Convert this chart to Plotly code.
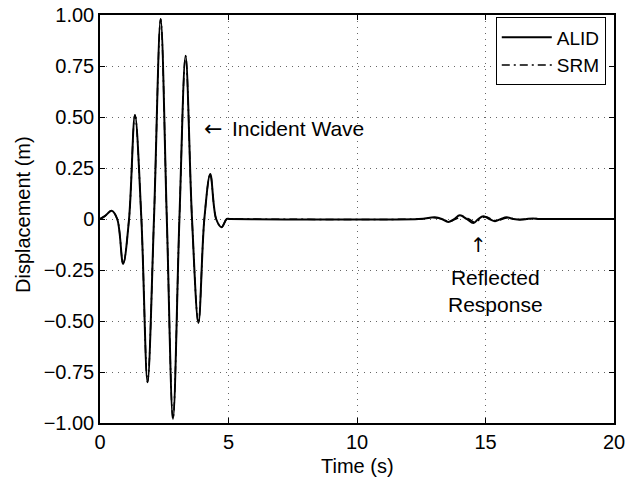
import plotly.graph_objects as go

# Incident wave (shared by both methods): extrema and zero crossings
t_incident = [0.0, 0.2, 0.45, 0.67, 0.9, 1.13, 1.36, 1.61, 1.85, 2.10, 2.36,
              2.60, 2.84, 3.09, 3.33, 3.58, 3.83, 4.06, 4.29, 4.52, 4.73,
              4.93, 5.05]
y_incident = [0.0, 0.015, 0.04, 0.0, -0.22, 0.0, 0.51, 0.0, -0.80, 0.0, 0.98,
              0.0, -0.98, 0.0, 0.80, 0.0, -0.51, 0.0, 0.22, 0.0, -0.04,
              0.0, 0.0]

# Reflected response, ALID
t_alid_refl = [12.4, 13.03, 13.3, 13.55, 13.78, 14.0, 14.27, 14.53, 14.72,
               14.92, 15.15, 15.37, 15.6, 15.82, 16.08, 16.34, 16.6, 16.85,
               17.1, 17.5, 20.0]
y_alid_refl = [0.0, 0.008, 0.0, -0.015, 0.0, 0.018, 0.0, -0.02, 0.0,
               0.013, 0.0, -0.011, 0.0, 0.008, 0.0, -0.004, 0.0, 0.003,
               0.0, 0.0, 0.0]

# Reflected response, SRM
t_srm_refl = [12.4, 13.0, 13.3, 13.6, 13.85, 14.1, 14.35, 14.6, 14.8,
              15.0, 15.22, 15.45, 15.68, 15.9, 16.15, 16.4, 16.65, 16.9,
              17.15, 17.5, 20.0]
y_srm_refl = [0.0, 0.006, 0.0, -0.012, 0.0, 0.014, 0.0, -0.016, 0.0,
              0.011, 0.0, -0.009, 0.0, 0.006, 0.0, -0.003, 0.0, 0.002,
              0.0, 0.0, 0.0]

x_ticks = [0, 5, 10, 15, 20]
y_ticks = [-1.0, -0.75, -0.5, -0.25, 0.0, 0.25, 0.5, 0.75, 1.0]
y_tick_text = ["\u22121.00", "\u22120.75", "\u22120.50", "\u22120.25", "0",
               "0.25", "0.50", "0.75", "1.00"]

FONT = "Liberation Sans, Arial, Helvetica, sans-serif"
ARROW_FONT = "DejaVu Sans, sans-serif"

fig = go.Figure()
fig.add_trace(go.Scatter(
    x=t_incident + t_alid_refl, y=y_incident + y_alid_refl,
    mode="lines", name="ALID",
    line=dict(color="black", width=2, shape="spline", smoothing=1.0),
))
fig.add_trace(go.Scatter(
    x=t_incident + t_srm_refl, y=y_incident + y_srm_refl,
    mode="lines", name="SRM",
    line=dict(color="black", width=1.5, shape="spline", smoothing=1.0,
              dash="8px,4px,2px,4px"),
))

axis_common = dict(
    showline=True, linecolor="black", linewidth=1.5, mirror="ticks",
    ticks="inside", ticklen=5, tickcolor="black", tickwidth=1,
    showgrid=True, gridcolor="#666666", gridwidth=1, griddash="1px,5px",
    zeroline=False, automargin=False,
    tickfont=dict(family=FONT, size=20, color="black"),
)

fig.update_xaxes(range=[0, 20], tickvals=x_ticks, **axis_common)
fig.update_yaxes(range=[-1, 1], tickvals=y_ticks, ticktext=y_tick_text,
                 **axis_common)

# axis titles
fig.add_annotation(x=0.5, y=-0.105, xref="paper", yref="paper",
                   text="Time (s)", showarrow=False,
                   xanchor="center", yanchor="middle",
                   font=dict(family=FONT, size=20, color="black"))
fig.add_annotation(x=-0.150, y=0.512, xref="paper", yref="paper",
                   text="Displacement (m)", showarrow=False, textangle=-90,
                   xanchor="center", yanchor="middle",
                   font=dict(family=FONT, size=20, color="black"))

# text labels on the plot
fig.add_annotation(x=3.95, y=0.446, xref="x", yref="y",
                   text="\u2190", showarrow=False,
                   xanchor="left", yanchor="middle",
                   font=dict(family=ARROW_FONT, size=22, color="black"))
fig.add_annotation(x=5.05, y=0.446, xref="x", yref="y",
                   text="Incident Wave", showarrow=False,
                   xanchor="left", yanchor="middle",
                   font=dict(family=FONT, size=21, color="black"))
fig.add_annotation(x=14.71, y=-0.127, xref="x", yref="y",
                   text="\u2191", showarrow=False,
                   xanchor="center", yanchor="middle",
                   font=dict(family=ARROW_FONT, size=20, color="black"))
fig.add_annotation(x=15.37, y=-0.353, xref="x", yref="y",
                   text="Reflected<br>Response", showarrow=False,
                   xanchor="center", yanchor="middle",
                   font=dict(family=FONT, size=21, color="black"))

fig.update_layout(
    width=626, height=484,
    margin=dict(l=100, r=12, t=15, b=61, autoexpand=False),
    paper_bgcolor="white", plot_bgcolor="white",
    font=dict(family=FONT, size=20, color="black"),
    legend=dict(x=0.984, y=0.994, xanchor="right", yanchor="top",
                bgcolor="white", bordercolor="black", borderwidth=1,
                itemwidth=50, tracegroupgap=0,
                font=dict(family=FONT, size=19, color="black")),
    showlegend=True,
)

fig.write_html("out.html")
